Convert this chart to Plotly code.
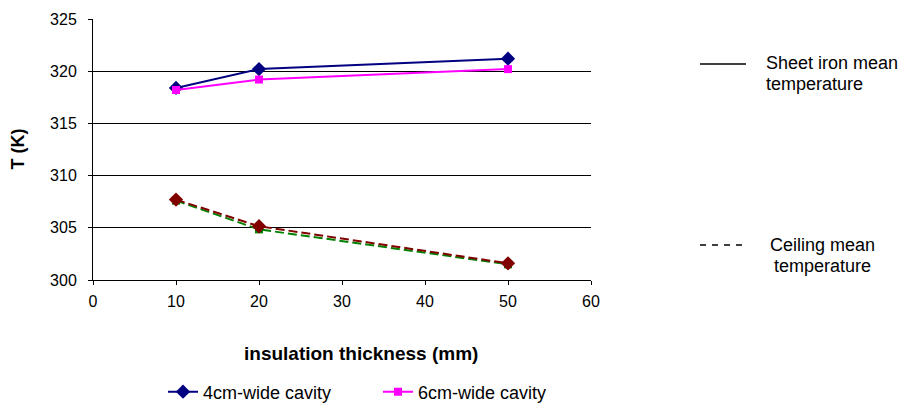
import plotly.graph_objects as go

thickness = [10, 20, 50]
sheet_4cm = [318.4, 320.2, 321.2]
sheet_6cm = [318.2, 319.2, 320.2]
ceil_4cm = [307.7, 305.15, 301.6]
ceil_6cm = [307.6, 304.85, 301.5]

FONT = "Liberation Sans, Arial, sans-serif"

# page offset (body margin) compensation: reference pixel -> figure pixel
OFF = 8
L, R, T, B = 93 - OFF, 591 - OFF, 19 - OFF, 280 - OFF


def px(xr):
    return (xr - OFF - L) / (R - L)


def py(yr):
    return (B - (yr - OFF)) / (B - T)


fig = go.Figure()
fig.add_trace(go.Scatter(x=thickness, y=ceil_6cm, mode="lines+markers", showlegend=False,
                         line=dict(color="#008000", width=2, dash="9px,4px"),
                         marker=dict(symbol="square", size=8, color="#008000")))
fig.add_trace(go.Scatter(x=thickness, y=ceil_4cm, mode="lines+markers", showlegend=False,
                         line=dict(color="#800000", width=2, dash="9px,4px"),
                         marker=dict(symbol="diamond", size=11, color="#800000")))
fig.add_trace(go.Scatter(x=thickness, y=sheet_4cm, mode="lines+markers", name="4cm-wide cavity",
                         line=dict(color="#000080", width=2),
                         marker=dict(symbol="diamond", size=11, color="#000080")))
fig.add_trace(go.Scatter(x=thickness, y=sheet_6cm, mode="lines+markers", name="6cm-wide cavity",
                         line=dict(color="#FF00FF", width=2),
                         marker=dict(symbol="square", size=8, color="#FF00FF")))

fig.update_layout(
    width=916, height=410,
    margin=dict(l=L, r=916 - R, t=T, b=410 - B, autoexpand=False),
    paper_bgcolor="white", plot_bgcolor="white",
    font=dict(family=FONT, size=16, color="black"),
    legend=dict(orientation="h", x=px(163), y=py(392), xanchor="left", yanchor="middle",
                font=dict(size=18), traceorder="normal", entrywidth=170),
    xaxis=dict(range=[0, 60], dtick=10, showgrid=False, zeroline=False, automargin=False,
               showline=True, linecolor="black", linewidth=1,
               ticks="outside", ticklen=4, tickcolor="black", tickfont=dict(size=16),
               ticklabelstandoff=3),
    yaxis=dict(range=[300, 325], dtick=5, showgrid=True, gridcolor="black", gridwidth=1,
               zeroline=False, showline=True, linecolor="black", linewidth=1, automargin=False,
               ticks="outside", ticklen=4, tickcolor="black", tickfont=dict(size=16),
               ticklabelstandoff=8),
)

ann = [
    dict(text="<b>insulation thickness (mm)</b>", x=px(361), y=py(353), xanchor="center",
         yanchor="middle", font=dict(size=19)),
    dict(text="<b>T (K)</b>", x=px(17.5), y=py(149), textangle=-90,
         xanchor="center", yanchor="middle", font=dict(size=18)),
    dict(text="Sheet iron mean", x=px(764), y=py(63), xanchor="left", yanchor="middle",
         font=dict(size=18)),
    dict(text="temperature", x=px(764), y=py(84), xanchor="left", yanchor="middle",
         font=dict(size=18)),
    dict(text="Ceiling mean", x=px(822), y=py(245), xanchor="center", yanchor="middle",
         font=dict(size=18)),
    dict(text="temperature", x=px(822), y=py(266), xanchor="center", yanchor="middle",
         font=dict(size=18)),
]
for a in ann:
    a.update(xref="paper", yref="paper", showarrow=False)
fig.update_layout(annotations=ann)

fig.add_shape(type="line", xref="paper", yref="paper", x0=px(700), x1=px(746), y0=py(64), y1=py(64),
              line=dict(color="black", width=1.5))
fig.add_shape(type="line", xref="paper", yref="paper", x0=px(700), x1=px(746), y0=py(245), y1=py(245),
              line=dict(color="black", width=1.5, dash="6px,6px"))

fig.write_html("out.html")
